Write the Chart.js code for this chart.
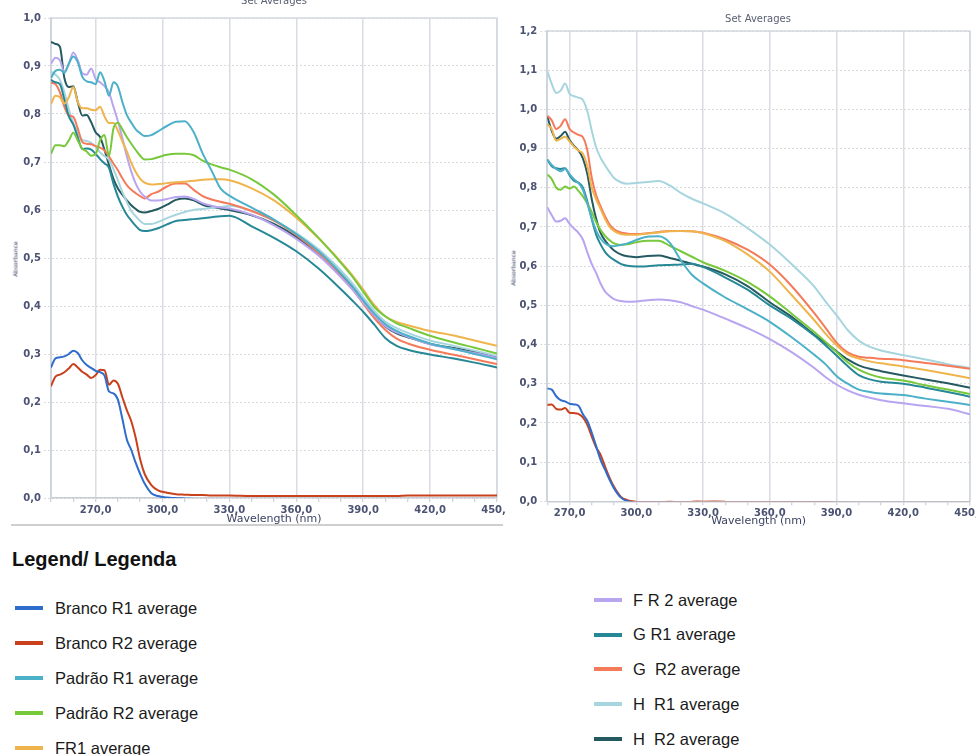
<!DOCTYPE html>
<html><head><meta charset="utf-8">
<script src="https://cdn.jsdelivr.net/npm/chart.js@4.4.1/dist/chart.umd.min.js"></script>
<style>
html,body{margin:0;padding:0;background:#fff;width:976px;height:755px;overflow:hidden;position:relative;font-family:"Liberation Sans",Arial,sans-serif;}
canvas{position:absolute;top:0;}
#cA{left:0;} #cB{left:505px;}
.ttl{position:absolute;font:10px "DejaVu Sans";line-height:12px;color:#5a6072;white-space:nowrap;transform:translateX(-50%);}
.ytl{position:absolute;font:6px "DejaVu Sans";line-height:7px;color:#3d4463;transform:translate(-50%,-50%) rotate(-90deg);white-space:nowrap;}
#rule{position:absolute;left:11px;top:524px;width:492px;height:2px;background:#cfcfcf;}
#lgTitle{position:absolute;left:12px;top:548px;font:bold 20px "Liberation Sans";color:#111;line-height:22px;}
.li{position:absolute;height:20px;display:flex;align-items:center;}
.li i{display:block;width:28px;height:4px;}
.li span{font:16.5px "Liberation Sans";color:#1a1a1a;white-space:pre;}
</style></head>
<body>
<canvas id="cA" width="505" height="530"></canvas>
<canvas id="cB" width="471" height="530"></canvas>
<div class="ttl" style="left:274px;top:-5px;">Set Averages</div>
<div class="ttl" style="left:758px;top:13px;">Set Averages</div>
<div class="ytl" style="left:15px;top:259px;">Absorbance</div>
<div class="ytl" style="left:513px;top:268px;">Absorbance</div>
<div id="rule"></div>
<div id="lgTitle">Legend/ Legenda</div>
<div id="legend"></div>
<script>
// ---- series names & colours ----
const NAMES = ['Branco R1 average','Branco R2 average','Padrão R1 average','Padrão R2 average','FR1 average',
               'F R 2 average','G R1 average','G  R2 average','H  R1 average','H  R2 average'];
const COLORS = ['#2f6ccc','#c9401c','#4bb0c8','#78c83c','#f0b44c','#b9a4f0','#268896','#f47a5a','#a6d5de','#245a60'];

// ---- x tick labels ----
const X_MAJOR = [270,300,330,360,390,420,450];
const X_MINOR = [250,260,270,280,290,300,310,320,330,340,350,360,370,380,390,400,410,420,430,440,450];

// ---- left chart: wavelengths (nm) ----
const WL_A = [250,252,254,256,258,260,262,264,266,268,270,272,274,276,278,280,282,284,286,288,290,
              292,295,298,302,306,310,314,318,322,326,
              330,340,350,360,370,380,385,390,395,400,405,410,420,430,440,450];
const A_BrancoR1 = [.272,.291,.293,.295,.300,.307,.302,.287,.277,.271,.265,.262,.255,.222,.218,.205,.165,.122,.100,.073,.050,
              .030,.010,.004,.001,0,-.001,-.002,-.003,-.003,-.003,
              -.003,-.003,-.003,-.004,-.004,-.004,-.004,-.004,-.004,-.004,-.004,-.004,-.004,-.004,-.004,-.004];
const A_BrancoR2 = [.233,.253,.257,.262,.270,.279,.272,.263,.257,.250,.256,.267,.266,.236,.245,.238,.210,.183,.160,.125,.080,
              .050,.027,.016,.011,.008,.007,.006,.006,.005,.005,
              .005,.004,.004,.004,.004,.004,.004,.004,.004,.004,.004,.005,.005,.005,.005,.005];
const A_PadraoR1 = [.875,.890,.892,.886,.905,.920,.908,.878,.868,.866,.862,.887,.868,.838,.866,.857,.825,.798,.782,.768,.760,
              .754,.756,.764,.775,.784,.785,.762,.718,.682,.645,
              .630,.605,.580,.550,.514,.468,.442,.412,.384,.362,.348,.338,.322,.311,.300,.289];
const A_PadraoR2 = [.717,.735,.735,.733,.745,.761,.745,.728,.722,.713,.716,.745,.756,.712,.770,.782,.768,.752,.738,.725,.713,
              .705,.706,.710,.715,.717,.717,.714,.703,.695,.689,
              .684,.664,.632,.589,.542,.490,.462,.430,.398,.378,.364,.355,.338,.325,.313,.301];
const A_FR1 = [.821,.838,.835,.822,.835,.856,.825,.812,.812,.809,.808,.815,.795,.781,.781,.765,.743,.722,.698,.679,.665,
              .657,.653,.654,.656,.658,.659,.661,.663,.664,.664,
              .662,.645,.620,.584,.541,.492,.465,.434,.402,.378,.367,.360,.348,.339,.328,.317];
const A_FR2 = [.905,.917,.912,.888,.905,.928,.912,.885,.882,.895,.873,.866,.858,.845,.815,.785,.750,.712,.680,.655,.638,
              .628,.620,.620,.623,.627,.628,.623,.614,.609,.605,
              .603,.590,.568,.540,.505,.460,.435,.407,.380,.358,.345,.336,.320,.311,.302,.292];
const A_GR1 = [.871,.866,.862,.830,.795,.778,.752,.727,.728,.726,.717,.706,.697,.688,.655,.628,.607,.590,.578,.567,.558,
              .556,.558,.562,.570,.577,.579,.581,.583,.585,.587,
              .588,.566,.542,.514,.478,.435,.412,.388,.361,.333,.317,.309,.299,.291,.282,.272];
const A_GR2 = [.865,.862,.845,.815,.797,.794,.770,.742,.738,.737,.733,.730,.724,.712,.697,.683,.666,.652,.642,.635,.629,
              .624,.633,.638,.649,.655,.655,.642,.629,.622,.617,
              .613,.598,.578,.548,.510,.462,.436,.405,.375,.350,.332,.322,.309,.299,.289,.279];
const A_HR1 = [.888,.882,.871,.845,.810,.781,.762,.746,.744,.740,.732,.720,.712,.705,.685,.662,.637,.617,.598,.587,.577,
              .571,.571,.575,.583,.590,.596,.600,.602,.604,.606,
              .609,.598,.578,.552,.518,.474,.448,.418,.390,.367,.354,.344,.328,.318,.307,.296];
const A_HR2 = [.950,.946,.940,.875,.856,.858,.825,.797,.798,.783,.762,.752,.725,.694,.665,.645,.632,.620,.610,.602,.596,
              .595,.598,.602,.611,.621,.624,.620,.611,.606,.603,
              .600,.589,.571,.544,.508,.463,.438,.408,.380,.357,.343,.335,.321,.313,.304,.293];

// ---- right chart: wavelengths (nm) ----
const WL_B = [260,262,264,266,268,270,272,274,276,278,280,282,284,286,288,290,
              293,296,300,305,310,315,320,325,330,
              340,350,360,370,380,385,390,395,400,405,410,
              420,430,440,450];
const B_BrancoR1 = [.288,.285,.268,.258,.255,.249,.247,.244,.222,.205,.175,.140,.105,.080,.055,.033,
              .010,.000,-.003,-.003,-.003,-.003,-.004,-.004,-.004,
              -.004,-.004,-.004,-.004,-.004,-.004,-.004,-.004,-.004,-.004,-.004,
              -.004,-.004,-.004,-.004];
const B_BrancoR2 = [.246,.247,.236,.234,.238,.226,.225,.223,.214,.195,.165,.137,.118,.088,.060,.037,
              .012,.003,-.001,-.002,-.002,-.001,-.002,-.001,-.001,
              -.001,-.002,-.002,-.002,-.002,-.002,-.003,-.003,-.004,-.004,-.004,
              -.004,-.004,-.004,-.004];
const B_PadraoR1 = [.872,.858,.848,.842,.848,.835,.822,.812,.795,.760,.722,.690,.670,.658,.652,.651,
              .654,.658,.667,.675,.676,.660,.615,.578,.556,
              .520,.490,.458,.418,.374,.350,.320,.300,.285,.279,.275,
              .271,.262,.254,.246];
const B_PadraoR2 = [.834,.822,.800,.795,.803,.798,.803,.792,.778,.760,.738,.712,.692,.677,.666,.658,
              .654,.656,.661,.665,.665,.652,.638,.624,.610,
              .588,.560,.523,.478,.432,.407,.381,.355,.336,.324,.316,
              .308,.296,.285,.274];
const B_FR1 = [.962,.950,.920,.925,.930,.918,.905,.895,.887,.855,.800,.770,.745,.720,.700,.690,
              .682,.680,.680,.683,.686,.689,.690,.689,.684,
              .664,.630,.586,.525,.462,.428,.398,.375,.364,.357,.352,
              .344,.335,.325,.314];
const B_FR2 = [.750,.730,.714,.716,.722,.708,.696,.685,.668,.635,.605,.582,.555,.535,.524,.516,
              .511,.509,.510,.513,.515,.513,.508,.498,.489,
              .466,.442,.414,.380,.340,.317,.298,.283,.272,.264,.258,
              .250,.243,.236,.222];
const B_GR1 = [.872,.855,.850,.848,.850,.832,.818,.813,.800,.765,.720,.680,.655,.636,.624,.616,
              .606,.601,.599,.600,.602,.603,.604,.606,.598,
              .571,.540,.500,.465,.423,.398,.372,.345,.322,.311,.305,
              .300,.290,.279,.267];
const B_GR2 = [.984,.972,.950,.958,.975,.950,.941,.935,.929,.895,.825,.780,.752,.727,.706,.694,
              .686,.683,.682,.684,.687,.690,.690,.689,.685,
              .668,.642,.604,.548,.480,.443,.405,.380,.369,.366,.364,
              .360,.353,.346,.338];
const B_HR1 = [1.097,1.065,1.042,1.048,1.066,1.040,1.034,1.030,1.024,.995,.945,.902,.876,.857,.840,.825,
              .814,.810,.812,.815,.817,.806,.787,.772,.760,
              .734,.697,.655,.604,.548,.510,.475,.437,.410,.394,.385,
              .373,.362,.350,.340];
const B_HR2 = [.982,.945,.925,.932,.943,.922,.907,.895,.875,.835,.770,.720,.684,.665,.651,.640,
              .630,.625,.623,.626,.627,.621,.614,.606,.599,
              .579,.549,.508,.470,.425,.405,.383,.362,.347,.338,.332,
              .321,.311,.301,.290];

const SERIES_A = [A_BrancoR1,A_BrancoR2,A_PadraoR1,A_PadraoR2,A_FR1,A_FR2,A_GR1,A_GR2,A_HR1,A_HR2];
const SERIES_B = [B_BrancoR1,B_BrancoR2,B_PadraoR1,B_PadraoR2,B_FR1,B_FR2,B_GR1,B_GR2,B_HR1,B_HR2];

const fmt = v => v.toFixed(1).replace('.', ',');
const TICK_FONT = {family:'DejaVu Sans', size:10, weight:'bold'};
const TICK_COLOR = '#4b5272';

const framePlugin = {
  id:'frame',
  beforeDatasetsDraw(chart){
    const {ctx, chartArea:a} = chart;
    ctx.save();
    ctx.strokeStyle = '#d3d7df'; ctx.lineWidth = 1.5;
    ctx.beginPath(); ctx.moveTo(a.left, a.top); ctx.lineTo(a.right, a.top); ctx.lineTo(a.right, a.bottom); ctx.stroke();
    ctx.restore();
  }
};

function makeChart(id, wl, series, o){
  const datasets = series.map((vals, i) => ({
    label: NAMES[i],
    data: wl.map((x, j) => ({x: x, y: vals[j]})),
    borderColor: COLORS[i],
    backgroundColor: COLORS[i],
    borderWidth: 2,
    pointRadius: 0,
    fill: false,
    cubicInterpolationMode: 'monotone'
  }));
  return new Chart(document.getElementById(id), {
    type: 'line',
    data: {datasets},
    options: {
      responsive: false, animation: false, devicePixelRatio: 1,
      layout: {padding: {left: 0, top: o.top, right: o.right, bottom: 0}},
      plugins: {legend: {display: false}, tooltip: {enabled: false}, title: {display: false}},
      scales: {
        x: {
          type: 'linear', min: o.xMin, max: o.xMax,
          afterBuildTicks: s => { s.ticks = X_MINOR.filter(v => v >= o.xMin && v <= o.xMax).map(v => ({value: v})); },
          afterFit: s => { s.height = o.xH; s.paddingLeft = 0; s.paddingRight = 0; },
          ticks: {autoSkip: false, maxRotation: 0, minRotation: 0, padding: 2, font: TICK_FONT, color: TICK_COLOR,
                  callback: v => X_MAJOR.includes(v) ? fmt(v) : ''},
          grid: {color: c => (c.tick && X_MAJOR.includes(c.tick.value)) ? '#d8dce3' : 'rgba(0,0,0,0)',
                 lineWidth: 1.5, tickLength: 4, tickColor: '#c2c6ce', tickWidth: 1},
          border: {color: '#c8ccd4', width: 1.5},
          title: {display: true, text: 'Wavelength (nm)', font: {family: 'DejaVu Sans', size: 11}, color: '#3d4463',
                  padding: {top: 0, bottom: o.xTitlePad}}
        },
        y: {
          min: 0, max: o.yMax,
          afterFit: s => { s.width = o.yW; },
          ticks: {stepSize: 0.1, padding: 3, font: TICK_FONT, color: TICK_COLOR, callback: v => fmt(v)},
          grid: {color: '#d9d9d9', lineWidth: 1, tickLength: 7, tickColor: '#d9d9d9', tickBorderDash: [2, 2]},
          border: {color: '#cfd3dc', width: 2, dash: [2, 2]}
        }
      }
    },
    plugins: [framePlugin]
  });
}

makeChart('cA', WL_A, SERIES_A, {xMin: 250, xMax: 450, yMax: 1.0, top: 18, right: 8, yW: 51, xH: 32, xTitlePad: 4.5});
makeChart('cB', WL_B, SERIES_B, {xMin: 260, xMax: 450, yMax: 1.2, top: 31, right: 6, yW: 42.3, xH: 28.7, xTitlePad: 1.8});

// ---- legend (HTML) ----
const LEG_POS = [
  [15, 608], [15, 643], [15, 678], [15, 713], [15, 748],
  [594, 600], [594, 634.5], [594, 669], [594, 704], [594, 739]
];
const legend = document.getElementById('legend');
NAMES.forEach((n, i) => {
  const d = document.createElement('div');
  d.className = 'li';
  d.style.left = LEG_POS[i][0] + 'px';
  d.style.top = (LEG_POS[i][1] - 10) + 'px';
  const mk = document.createElement('i');
  mk.style.background = COLORS[i];
  mk.style.marginRight = (i < 5 ? 12 : 11) + 'px';
  const t = document.createElement('span');
  t.textContent = n;
  d.appendChild(mk); d.appendChild(t);
  legend.appendChild(d);
});
</script>
</body></html>
